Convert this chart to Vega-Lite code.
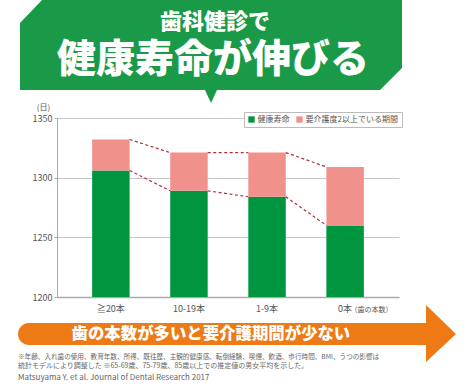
{
  "$schema": "https://vega.github.io/schema/vega-lite/v6.json",
  "width": 342,
  "height": 179,
  "autosize": "none",
  "padding": {"left": 57, "top": 118, "right": 75, "bottom": 89},
  "background": "white",
  "config": {"font": "Noto Sans CJK JP", "view": {"stroke": null}},
  "resolve": {"scale": {"x": "independent", "y": "independent", "color": "independent"}},
  "layer": [
    {
      "data": {"values": [
        {"teeth": "≧20本", "series": "健康寿命", "days": 1306},
        {"teeth": "≧20本", "series": "要介護度2以上でいる期間", "days": 26},
        {"teeth": "10-19本", "series": "健康寿命", "days": 1289},
        {"teeth": "10-19本", "series": "要介護度2以上でいる期間", "days": 32},
        {"teeth": "1-9本", "series": "健康寿命", "days": 1284},
        {"teeth": "1-9本", "series": "要介護度2以上でいる期間", "days": 37},
        {"teeth": "0本", "series": "健康寿命", "days": 1260},
        {"teeth": "0本", "series": "要介護度2以上でいる期間", "days": 49}
      ]},
      "transform": [
        {"window": [{"op": "row_number", "as": "idx"}]},
        {"stack": "days", "groupby": ["teeth"], "sort": [{"field": "idx", "order": "ascending"}], "as": ["y0", "y1"]},
        {"window": [{"op": "lead", "field": "teeth", "as": "next"}, {"op": "lead", "field": "y1", "as": "nextY"}], "groupby": ["series"], "sort": [{"field": "idx", "order": "ascending"}]}
      ],
      "layer": [
        {
          "mark": {"type": "bar", "clip": true},
          "encoding": {
            "x": {
              "field": "teeth", "type": "nominal", "sort": null,
              "scale": {"domain": ["≧20本", "10-19本", "1-9本", "0本"], "paddingInner": 0.52, "paddingOuter": 0.45},
              "axis": {
                "title": "（歯の本数）", "titleX": 293, "titleY": 12, "titleAlign": "left", "titleBaseline": "middle",
                "titleFontSize": 7, "titleFontWeight": "normal", "titleColor": "#555",
                "labelFontSize": 9, "labelColor": "#555", "labelAngle": 0, "labelPadding": 7,
                "ticks": false, "domainColor": "#aaa", "domainWidth": 1.5
              }
            },
            "y": {
              "field": "y1", "type": "quantitative",
              "scale": {"domain": [1200, 1350], "zero": false, "nice": false},
              "axis": {
                "values": [1200, 1250, 1300, 1350], "format": "d",
                "title": "(日)", "titleAngle": 0, "titleX": -14, "titleY": -11, "titleAlign": "center", "titleBaseline": "middle",
                "titleFontSize": 8, "titleFontWeight": "normal", "titleColor": "#555",
                "labelFontSize": 9, "labelColor": "#555", "labelPadding": 2,
                "tickSize": 3, "tickColor": "#aaa", "domainColor": "#aaa", "gridColor": "#c8c8c8"
              }
            },
            "y2": {"field": "y0"},
            "color": {
              "field": "series", "type": "nominal",
              "scale": {"domain": ["健康寿命", "要介護度2以上でいる期間"], "range": ["#009640", "#f0918b"]},
              "legend": {
                "orient": "none", "legendX": 187, "legendY": -6, "direction": "horizontal", "title": null,
                "labelFontSize": 8, "labelColor": "#555", "symbolType": "square", "symbolSize": 40,
                "symbolStrokeWidth": 0, "symbolOpacity": 1, "fillColor": "white", "strokeColor": "#bbb",
                "padding": 3.5, "columnPadding": 6, "labelOffset": 2
              }
            }
          }
        },
        {
          "transform": [{"filter": "datum.next != null"}],
          "mark": {"type": "rule", "strokeDash": [3, 2.5], "color": "#b0303c", "strokeWidth": 1.2},
          "encoding": {
            "x": {"field": "teeth", "type": "nominal", "bandPosition": 1},
            "x2": {"field": "next", "bandPosition": 0},
            "y": {"field": "y1", "type": "quantitative"},
            "y2": {"field": "nextY"}
          }
        }
      ]
    },
    {
      "layer": [
        {
          "data": {"values": [{"item": "banner"}]},
          "mark": {"type": "point", "shape": "M-191,-22L-169,-45L191,-45L191,23L169,45L6,45L0,58L-6,45L-191,45Z", "size": 4, "filled": true, "opacity": 1, "color": "#1a9a48", "strokeWidth": 0, "clip": false},
          "encoding": {
            "x": {"datum": 0.4503, "type": "quantitative", "scale": {"domain": [0, 1], "nice": false, "zero": false}, "axis": null},
            "y": {"datum": 1.4078, "type": "quantitative", "scale": {"domain": [0, 1], "nice": false, "zero": false}, "axis": null}
          }
        },
        {
          "data": {"values": [{"item": "arrow"}]},
          "mark": {"type": "point", "shape": "M-208,-11L189,-11L189,-29L219,0L189,28L189,11L-208,11A11,11,0,0,1,-208,-11Z", "size": 4, "filled": true, "opacity": 1, "color": "#ee7a16", "strokeWidth": 0, "clip": false},
          "encoding": {
            "x": {"datum": 0.5263, "type": "quantitative", "scale": {"domain": [0, 1], "nice": false, "zero": false}, "axis": null},
            "y": {"datum": -0.2067, "type": "quantitative", "scale": {"domain": [0, 1], "nice": false, "zero": false}, "axis": null}
          }
        },
        {
          "data": {"values": [{"text": "歯科健診で"}]},
          "mark": {"type": "text", "fontSize": 22, "fontWeight": 900, "color": "white", "align": "center", "baseline": "middle"},
          "encoding": {
            "text": {"field": "text"},
            "x": {"datum": 0.462, "type": "quantitative", "scale": {"domain": [0, 1], "nice": false, "zero": false}, "axis": null},
            "y": {"datum": 1.535, "type": "quantitative", "scale": {"domain": [0, 1], "nice": false, "zero": false}, "axis": null}
          }
        },
        {
          "data": {"values": [{"text": "健康寿命が伸びる"}]},
          "mark": {"type": "text", "fontSize": 39, "fontWeight": 900, "color": "white", "align": "center", "baseline": "middle"},
          "encoding": {
            "text": {"field": "text"},
            "x": {"datum": 0.456, "type": "quantitative", "scale": {"domain": [0, 1], "nice": false, "zero": false}, "axis": null},
            "y": {"datum": 1.322, "type": "quantitative", "scale": {"domain": [0, 1], "nice": false, "zero": false}, "axis": null}
          }
        },
        {
          "data": {"values": [{"text": "歯の本数が多いと要介護期間が少ない"}]},
          "mark": {"type": "text", "fontSize": 16.4, "fontWeight": 900, "color": "white", "align": "center", "baseline": "middle"},
          "encoding": {
            "text": {"field": "text"},
            "x": {"datum": 0.45, "type": "quantitative", "scale": {"domain": [0, 1], "nice": false, "zero": false}, "axis": null},
            "y": {"datum": -0.2067, "type": "quantitative", "scale": {"domain": [0, 1], "nice": false, "zero": false}, "axis": null}
          }
        },
        {
          "data": {"values": [{"text": "※年齢、入れ歯の使用、教育年数、所得、既往歴、主観的健康感、転倒経験、喫煙、飲酒、歩行時間、BMI、うつの影響は"}]},
          "mark": {"type": "text", "fontSize": 6.6, "color": "#666", "align": "left", "baseline": "middle"},
          "encoding": {
            "text": {"field": "text"},
            "x": {"datum": -0.114, "type": "quantitative", "scale": {"domain": [0, 1], "nice": false, "zero": false}, "axis": null},
            "y": {"datum": -0.335, "type": "quantitative", "scale": {"domain": [0, 1], "nice": false, "zero": false}, "axis": null}
          }
        },
        {
          "data": {"values": [{"text": "統計モデルにより調整した ※65-69歳、75-79歳、85歳以上での推定値の男女平均を示した。"}]},
          "mark": {"type": "text", "fontSize": 7, "color": "#666", "align": "left", "baseline": "middle"},
          "encoding": {
            "text": {"field": "text"},
            "x": {"datum": -0.114, "type": "quantitative", "scale": {"domain": [0, 1], "nice": false, "zero": false}, "axis": null},
            "y": {"datum": -0.385, "type": "quantitative", "scale": {"domain": [0, 1], "nice": false, "zero": false}, "axis": null}
          }
        },
        {
          "data": {"values": [{"text": "Matsuyama Y. et al. Journal of Dental Research 2017"}]},
          "mark": {"type": "text", "fontSize": 8, "color": "#666", "align": "left", "baseline": "middle"},
          "encoding": {
            "text": {"field": "text"},
            "x": {"datum": -0.114, "type": "quantitative", "scale": {"domain": [0, 1], "nice": false, "zero": false}, "axis": null},
            "y": {"datum": -0.453, "type": "quantitative", "scale": {"domain": [0, 1], "nice": false, "zero": false}, "axis": null}
          }
        }
      ]
    }
  ]
}
